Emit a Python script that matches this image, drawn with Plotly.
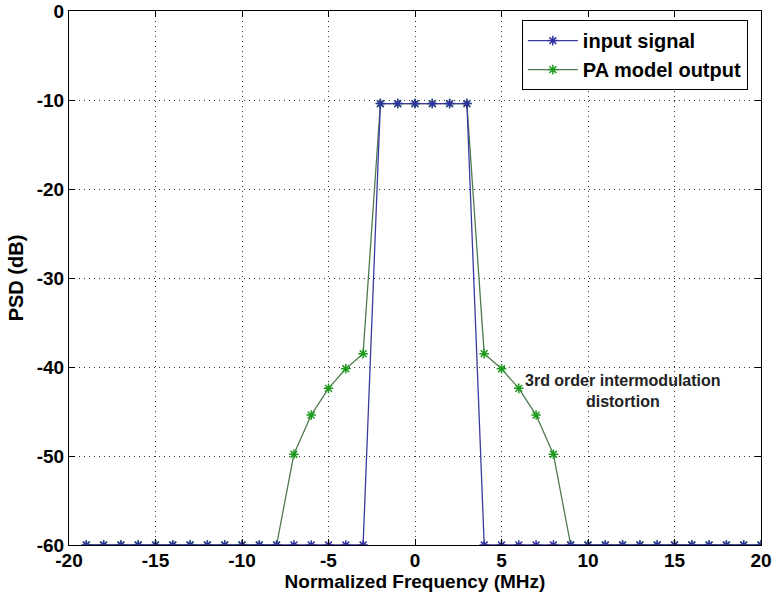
import plotly.graph_objects as go

freq = list(range(-19, 21))
input_signal = [-60]*17 + [-10.4]*6 + [-60]*17
pa_left = [-60]*12 + [-49.8, -45.4, -42.4, -40.2, -38.5]
pa_mid = [-10.4]*6
pa_right = [-38.5, -40.2, -42.4, -45.4, -49.8] + [-60]*12
pa_output = pa_left + pa_mid + pa_right

x_ticks = [-20, -15, -10, -5, 0, 5, 10, 15, 20]
y_ticks = [0, -10, -20, -30, -40, -50, -60]

font_family = "Liberation Sans, Arial, sans-serif"

fig = go.Figure()
fig.add_trace(go.Scatter(
    x=freq, y=pa_output, mode="lines+markers", name="PA model output",
    line=dict(color="#4f7a4f", width=1.3),
    marker=dict(symbol="asterisk-open", size=8, color="#1e9a1e", line=dict(color="#1e9a1e", width=1.5)),
    legendrank=2,
))
fig.add_trace(go.Scatter(
    x=freq, y=input_signal, mode="lines+markers", name="input signal",
    line=dict(color="#3a3aa0", width=1.3),
    marker=dict(symbol="asterisk-open", size=8, color="#3030a0", line=dict(color="#3030a0", width=1.5)),
    legendrank=1,
))

fig.add_annotation(
    x=12.0, y=-42.7, xref="x", yref="y",
    text="<b>3rd order intermodulation<br>distortion</b>",
    showarrow=False, align="center",
    font=dict(family=font_family, size=16, color="#222"),
)

axis_common = dict(
    showline=True, linecolor="black", linewidth=1, mirror="ticks",
    ticks="inside", ticklen=6, tickcolor="black",
    showgrid=True, gridcolor="#333", griddash="1px,4px", gridwidth=1,
    zeroline=False, automargin=False, ticklabeloverflow="allow",
    tickfont=dict(family=font_family, size=19, color="black", weight="bold"),
)

fig.update_xaxes(
    range=[-20, 20], tickvals=x_ticks, ticktext=[str(v) for v in x_ticks],
    ticklabelstandoff=-2,
    title=dict(text="<b>Normalized Frequency (MHz)</b>", standoff=2,
               font=dict(family=font_family, size=19, color="black")),
    **axis_common,
)
fig.update_yaxes(
    range=[-60, 0], tickvals=y_ticks, ticktext=[str(v) for v in y_ticks],
    title=dict(text="<b>PSD (dB)</b>", standoff=7,
               font=dict(family=font_family, size=20, color="black")),
    **axis_common,
)

fig.update_layout(
    width=774, height=599,
    margin=dict(l=69, r=13, t=11, b=54),
    plot_bgcolor="white", paper_bgcolor="white",
    showlegend=True,
    legend=dict(
        x=0.981, y=0.983, xanchor="right", yanchor="top",
        bordercolor="black", borderwidth=1, bgcolor="white",
        font=dict(family=font_family, size=20, color="black", weight="bold"),
        itemwidth=50, tracegroupgap=0,
    ),
)

fig.write_html("out.html", config={"displayModeBar": False},
               post_script="document.body.style.margin='0';")
